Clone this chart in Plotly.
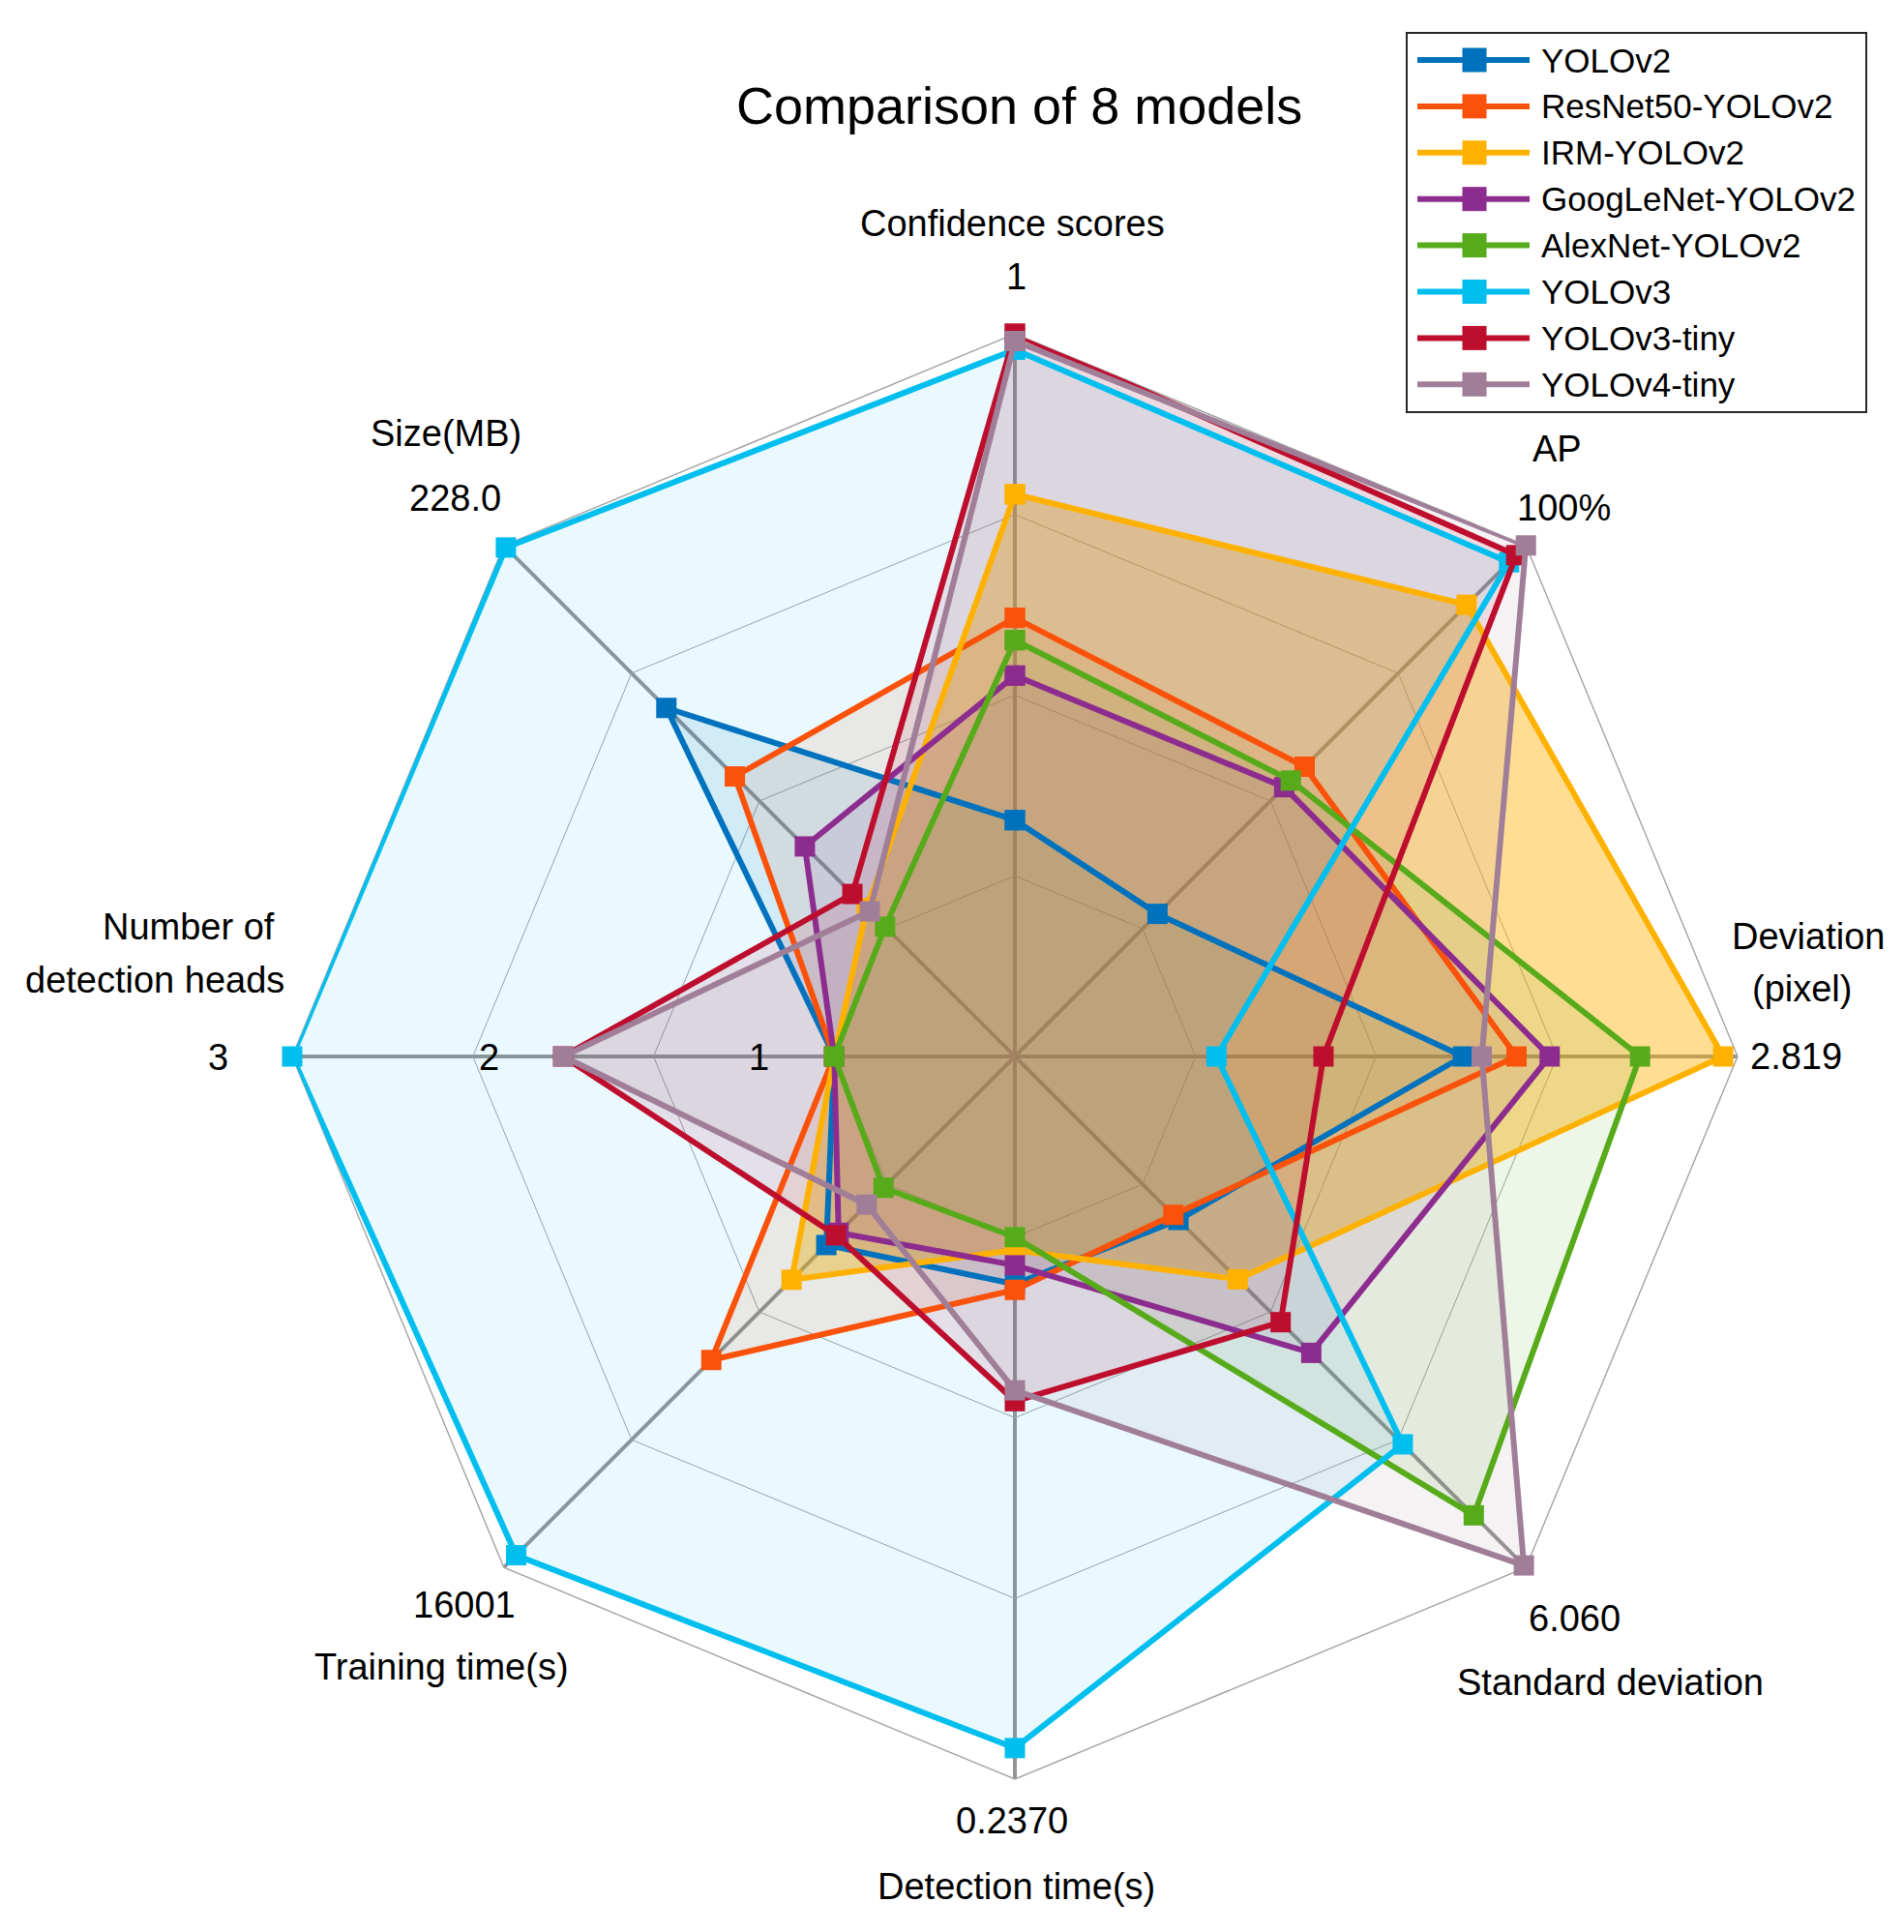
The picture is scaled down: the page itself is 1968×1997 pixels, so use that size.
import plotly.graph_objects as go

W, H = 1968, 1997
OFF = 8  # default page margin of the browser body
FONT = "Liberation Sans, Arial, Helvetica, sans-serif"

# ---------------- data ----------------
title = "Comparison of 8 models"
axes_names = ["Confidence scores", "AP", "Deviation<br>(pixel)", "Standard deviation",
              "Detection time(s)", "Training time(s)", "Number of<br>detection heads", "Size(MB)"]
axis_max_labels = ["1", "100%", "2.819", "6.060", "0.2370", "16001", "3", "228.0"]
heads_tick_labels = ["2", "1"]

models = ["YOLOv2", "ResNet50-YOLOv2", "IRM-YOLOv2", "GoogLeNet-YOLOv2",
          "AlexNet-YOLOv2", "YOLOv3", "YOLOv3-tiny", "YOLOv4-tiny"]
colors = ["#0072BD", "#FA520A", "#FFB100", "#8D2C8F",
          "#57AB1B", "#00BEEE", "#BE0E2E", "#A07E98"]
fill_alpha = [0.10, 0.10, 0.42, 0.10, 0.10, 0.085, 0.10, 0.10]

# radial position on each spider axis (0 = centre, 1 = outer web)
confidence = [0.327, 0.607, 0.778, 0.527, 0.576, 0.978, 1.000, 0.990]
ap         = [0.279, 0.567, 0.884, 0.527, 0.540, 0.967, 0.981, 1.000]
deviation  = [0.620, 0.694, 0.980, 0.740, 0.865, 0.279, 0.427, 0.646]
std_dev    = [0.320, 0.310, 0.436, 0.580, 0.898, 0.759, 0.520, 0.996]
det_time   = [0.315, 0.323, 0.268, 0.289, 0.250, 0.957, 0.477, 0.462]
train_time = [0.369, 0.594, 0.437, 0.345, 0.257, 0.976, 0.350, 0.290]
size_mb    = [0.682, 0.548, 0.290, 0.411, 0.254, 0.996, 0.318, 0.284]
# number of detection heads (actual counts, axis limits 1..3 with one offset interval)
heads      = [1, 1, 1, 1, 1, 3, 2, 2]
heads_min, heads_max = 1, 3


def heads_r(v):
    return 0.25 + 0.75 * (v - heads_min) / (heads_max - heads_min)


def rgba(hex_color, a):
    h = hex_color.lstrip("#")
    r, g, b = int(h[0:2], 16), int(h[2:4], 16), int(h[4:6], 16)
    return f"rgba({r},{g},{b},{a})"


def px(x):
    return (x - OFF) / W


def py(y):
    return 1 - (y - OFF) / H


# ---------------- geometry of the spider (pixels on the page) ----------------
CX, CY, R = 1049, 1092, 747

fig = go.Figure()

series_r = []
for i in range(len(models)):
    r = [confidence[i], ap[i], deviation[i], std_dev[i], det_time[i],
         train_time[i], heads_r(heads[i]), size_mb[i]]
    series_r.append(r + [r[0]])
theta = axes_names + [axes_names[0]]

# fills first
for i, m in enumerate(models):
    fig.add_trace(go.Scatterpolar(
        r=series_r[i], theta=theta, mode="lines", fill="toself",
        fillcolor=rgba(colors[i], fill_alpha[i]),
        line=dict(width=0, color=rgba(colors[i], 0)),
        hoverinfo="skip", showlegend=False))

# lines + markers on top
for i, m in enumerate(models):
    fig.add_trace(go.Scatterpolar(
        r=series_r[i], theta=theta, mode="lines+markers", name=m,
        line=dict(color=colors[i], width=6),
        marker=dict(symbol="square", size=21, color=colors[i], line=dict(width=0)),
        showlegend=False))

fig.update_layout(
    width=W, height=H,
    margin=dict(l=0, r=0, t=0, b=0),
    paper_bgcolor="white",
    font=dict(family=FONT, color="black"),
    polar=dict(
        domain=dict(x=[px(CX - R), px(CX + R)], y=[py(CY + R), py(CY - R)]),
        bgcolor="white",
        gridshape="linear",
        radialaxis=dict(range=[0, 1], tickvals=[0.25, 0.5, 0.75, 1.0],
                        showticklabels=False, ticks="", showline=False,
                        gridcolor="#a3a3a3", gridwidth=1.4, layer="below traces"),
        angularaxis=dict(rotation=90, direction="clockwise",
                         categoryorder="array", categoryarray=axes_names,
                         showticklabels=False, ticks="",
                         gridcolor="#949494", gridwidth=4,
                         showline=True, linecolor="#a3a3a3", linewidth=1.4,
                         layer="below traces"),
    ),
)

annotations = []


def add_text(text, x, y, size=38, xanchor="center"):
    annotations.append(dict(text=text, x=px(x), y=py(y), xref="paper", yref="paper",
                            xanchor=xanchor, yanchor="middle", showarrow=False,
                            font=dict(size=size, family=FONT, color="black")))


add_text(title, 1053, 109, size=54)

# axis titles (lines) and their maximum labels
title_pos = [
    [(1046, 231)],
    [(1609, 464)],
    [(1869, 968), (1862, 1022)],
    [(1664, 1739)],
    [(1050, 1950)],
    [(456, 1723)],
    [(195, 958), (160, 1013)],
    [(461, 448)],
]
max_pos = [(1050, 286), (1616, 525), (1856, 1092), (1627, 1673),
           (1046, 1882), (480, 1659), (225, 1093), (470, 515)]
for k, name in enumerate(axes_names):
    for line_text, (x, y) in zip(name.split("<br>"), title_pos[k]):
        add_text(line_text, x, y)
    add_text(axis_max_labels[k], *max_pos[k])

# intermediate labels on the detection-heads axis
for t, (x, y) in zip(heads_tick_labels, [(505, 1093), (784, 1093)]):
    add_text(t, x, y)

# ---------------- legend (drawn in paper space) ----------------
shapes = []
LX0, LY0, LX1, LY1 = 1454, 34, 1929, 426
shapes.append(dict(type="rect", xref="paper", yref="paper",
                   x0=px(LX0), x1=px(LX1), y0=py(LY1), y1=py(LY0),
                   line=dict(color="#262626", width=2), fillcolor="white", layer="above"))
row0, gap = 62, 47.9
for i, m in enumerate(models):
    yy = row0 + gap * i
    shapes.append(dict(type="line", xref="paper", yref="paper",
                       x0=px(1465), x1=px(1581), y0=py(yy), y1=py(yy),
                       line=dict(color=colors[i], width=6), layer="above"))
    shapes.append(dict(type="rect", xref="paper", yref="paper",
                       x0=px(1524 - 12.5), x1=px(1524 + 12.5),
                       y0=py(yy + 12.5), y1=py(yy - 12.5),
                       line=dict(width=0), fillcolor=colors[i], layer="above"))
    add_text(m, 1591, yy, size=35, xanchor="left")

fig.update_layout(annotations=annotations, shapes=shapes)

fig.write_html("out.html")
